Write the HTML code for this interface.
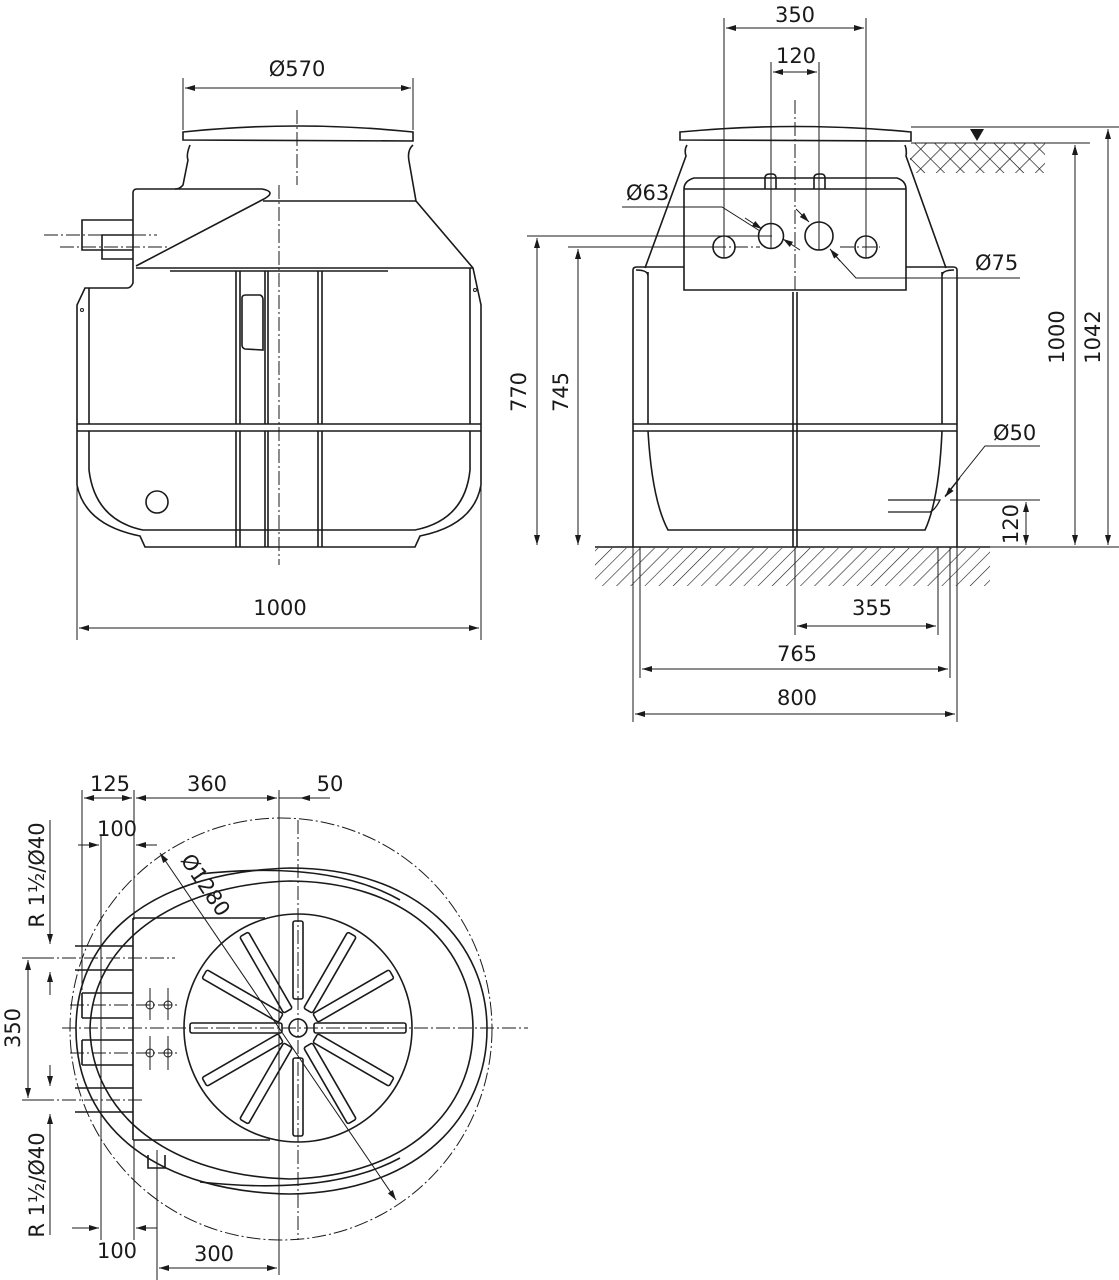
<!DOCTYPE html>
<html><head><meta charset="utf-8"><style>
html,body{margin:0;padding:0;background:#fff}
svg{display:block}
text{font-family:"DejaVu Sans","Liberation Sans",sans-serif;font-size:21px;fill:#1a1a1a}
.l{stroke:#1a1a1a;stroke-width:1.6;fill:none}
.t{stroke:#1a1a1a;stroke-width:1;fill:none}
.c{stroke:#1a1a1a;stroke-width:1;fill:none;stroke-dasharray:14 3 2 3}
</style></head><body>
<svg width="1119" height="1280" viewBox="0 0 1119 1280" xmlns="http://www.w3.org/2000/svg">
<defs>
<marker id="a" viewBox="0 0 10 6" refX="10" refY="3" markerWidth="12" markerHeight="6" orient="auto-start-reverse" markerUnits="userSpaceOnUse"><path d="M0,0 L10,3 L0,6z" fill="#1a1a1a"/></marker>
<pattern id="h" width="10" height="10" patternUnits="userSpaceOnUse" patternTransform="rotate(45)"><line x1="0" y1="0" x2="0" y2="10" stroke="#1a1a1a" stroke-width="1.2"/></pattern>
<pattern id="x" width="14" height="14" patternUnits="userSpaceOnUse" patternTransform="rotate(45)"><line x1="0" y1="0" x2="0" y2="14" stroke="#1a1a1a" stroke-width="1.4"/><line x1="0" y1="0" x2="14" y2="0" stroke="#1a1a1a" stroke-width="1.4"/></pattern>
</defs>

<!-- ===== FRONT VIEW (left) ===== -->
<g class="l">
<path d="M183,140 L183,132 Q297,120 413,132 L413,141 Z"/>
<path d="M190,145 Q186,155 188,160 L183,185 Q180,189 175,189 L137,189 Q133,189 133,193 L133,283 Q131,288 127,288 L85,288 L77,305 L77,485 Q85,525 140,536 L145,547 L415,547 L420,536 Q474,525 481,485 L481,305 L473,268 L416,201 L409,161 Q407,150 413,145"/>
<path d="M175,189 L262,189 Q278,192 262,200 L136,266"/>
<path d="M263,201 L416,201"/>
<path d="M136,268 L473,268"/>
<path d="M89,288 L89,424 M470,268 L470,424"/>
<path d="M77,424 L481,424 M77,431 L481,431"/>
<path d="M89,431 L89,470 Q95,520 143,530 L415,530 Q465,520 470,470 L470,431"/>
<path d="M170,271 L388,271"/>
<path d="M236,271 L236,424 M240,271 L240,424 M265,271 L265,424 M268,271 L268,424 M318,271 L318,424 M322,271 L322,424"/>
<path d="M236,431 L236,547 M240,431 L240,547 M265,431 L265,547 M268,431 L268,547 M318,431 L318,547 M322,431 L322,547"/>
<path d="M242,298 Q242,295 246,295 L260,295 Q263,296 263,300 L263,350 L245,349 Q242,348 242,345 Z"/>
<circle cx="157" cy="502" r="11"/>
<path d="M133,220 L82,220 L82,250 L133,250 M133,235 L102,235 L102,259 L133,259"/>
<circle cx="82" cy="310" r="1.5" class="t"/><circle cx="475" cy="290" r="1.5" class="t"/>
</g>
<path class="c" d="M297,110 L297,185 M279,185 L279,565 M44,235 L157,235 M60,247 L167,247"/>
<g class="t">
<path d="M183,130 L183,78 M413,130 L413,78"/>
<path d="M77,305 L77,640 M481,305 L481,640"/>
<line x1="185" y1="88" x2="411" y2="88" marker-start="url(#a)" marker-end="url(#a)"/>
<line x1="79" y1="628" x2="479" y2="628" marker-start="url(#a)" marker-end="url(#a)"/>
</g>
<text x="297" y="76" text-anchor="middle">Ø570</text>
<text x="280" y="615" text-anchor="middle">1000</text>

<!-- ===== SIDE VIEW (right) ===== -->
<rect x="910" y="143" width="135" height="30" fill="url(#x)"/>
<path d="M970,129 L984,129 L977,141 Z" fill="#1a1a1a"/>
<rect x="595" y="548" width="395" height="38" fill="url(#h)"/>
<g class="l">
<path d="M680,140 L680,132 Q795,121 911,132 L911,141 Z"/>
<path d="M687,145 Q684,150 686,156 L645,268 M905,145 Q907,150 906,156 L946,268"/>
<path d="M633,547 L633,270 Q633,267 637,267 L684,267 M906,267 L953,267 Q957,267 957,270 L957,547"/>
<path d="M648,272 L648,424 M942,272 L942,424 M636,270 Q648,270 648,276 M954,270 Q942,270 942,276"/>
<path d="M633,424 L957,424 M633,431 L957,431"/>
<path d="M648,431 Q652,500 668,530 L925,530 Q939,500 942,431"/>
<path d="M684,189 L684,290 L906,290 L906,189 M684,189 Q684,181 694,178 L897,178 Q906,181 906,189 M684,189 L906,189"/>
<path d="M765,189 L765,178 Q765,174 770,174 L772,174 Q776,174 776,178 L776,189 M814,189 L814,178 Q814,174 819,174 L821,174 Q825,174 825,178 L825,189"/>
<circle cx="724" cy="247" r="11"/><circle cx="771" cy="236" r="12.5"/><circle cx="819" cy="236" r="14"/><circle cx="866" cy="247" r="11"/>
<path d="M793,292 L793,547 M797,292 L797,547"/>
<path d="M888,500 L940,500 Q935,510 930,512 L888,512" stroke-width="1.3"/>
<path d="M595,547 L990,547"/>
</g>
<path class="c" d="M795,100 L795,290 M690,247 L760,247 M840,247 L880,247"/>
<g class="t">
<path d="M724,18 L724,258 M866,18 L866,258 M771,62 L771,249 M819,62 L819,250"/>
<line x1="726" y1="28" x2="864" y2="28" marker-start="url(#a)" marker-end="url(#a)"/>
<line x1="773" y1="72" x2="817" y2="72" marker-start="url(#a)" marker-end="url(#a)"/>
<path d="M622,207 L722,207 L760,231"/>
<line x1="745" y1="218" x2="762" y2="229" marker-end="url(#a)"/>
<line x1="800" y1="250" x2="783" y2="239" marker-end="url(#a)"/>
<line x1="796" y1="209" x2="809" y2="222" marker-end="url(#a)"/>
<path d="M1020,278 L856,278 L832,252"/>
<line x1="840" y1="261" x2="830" y2="249" marker-end="url(#a)"/>
<path d="M527,236 L772,236 M568,247 L720,247"/>
<line x1="537" y1="238" x2="537" y2="545" marker-start="url(#a)" marker-end="url(#a)"/>
<line x1="578" y1="249" x2="578" y2="545" marker-start="url(#a)" marker-end="url(#a)"/>
<path d="M911,127 L1119,127 M911,143 L1090,143 M957,547 L1119,547 M950,500 L1040,500"/>
<line x1="1075" y1="145" x2="1075" y2="545" marker-start="url(#a)" marker-end="url(#a)"/>
<line x1="1108" y1="129" x2="1108" y2="545" marker-start="url(#a)" marker-end="url(#a)"/>
<line x1="1026" y1="502" x2="1026" y2="545" marker-start="url(#a)" marker-end="url(#a)"/>
<path d="M1040,446 L985,446 L945,496"/>
<line x1="960" y1="478" x2="945" y2="497" marker-end="url(#a)"/>
<path d="M633,547 L633,722 M957,547 L957,722 M640,547 L640,678 M950,547 L950,678 M795,547 L795,635 M938,547 L938,635"/>
<line x1="797" y1="626" x2="936" y2="626" marker-start="url(#a)" marker-end="url(#a)"/>
<line x1="642" y1="669" x2="948" y2="669" marker-start="url(#a)" marker-end="url(#a)"/>
<line x1="635" y1="714" x2="955" y2="714" marker-start="url(#a)" marker-end="url(#a)"/>
</g>
<text x="795" y="22" text-anchor="middle">350</text>
<text x="796" y="63" text-anchor="middle">120</text>
<text x="626" y="200">Ø63</text>
<text x="975" y="270">Ø75</text>
<text x="993" y="440">Ø50</text>
<text x="872" y="615" text-anchor="middle">355</text>
<text x="797" y="661" text-anchor="middle">765</text>
<text x="797" y="705" text-anchor="middle">800</text>
<text transform="translate(526,392) rotate(-90)" text-anchor="middle">770</text>
<text transform="translate(568,392) rotate(-90)" text-anchor="middle">745</text>
<text transform="translate(1064,337) rotate(-90)" text-anchor="middle">1000</text>
<text transform="translate(1100,337) rotate(-90)" text-anchor="middle">1042</text>
<text transform="translate(1018,524) rotate(-90)" text-anchor="middle">120</text>

<!-- ===== TOP VIEW (bottom) ===== -->
<circle cx="281" cy="1029" r="211" class="c"/>
<g class="l">
<path d="M76,1029 C76,930 160,872 290,868 C420,868 487,945 487,1029 C487,1115 420,1192 290,1194 C160,1192 76,1130 76,1029 Z"/>
<path d="M90,1029 C92,945 170,885 290,881 C410,882 473,950 473,1029 C473,1108 410,1176 290,1179 C170,1176 92,1115 90,1029 Z"/>
<path d="M200,874 Q330,860 400,900 M200,1182 Q330,1196 400,1158"/>
<path d="M133,918 L133,1140 M133,918 L265,918 M133,1140 L270,1140"/>
<path d="M82,993 L133,993 M82,1018 L133,1018 M82,1040 L133,1040 M82,1065 L133,1065 M82,993 L82,1018 M82,1040 L82,1065"/>
<path d="M75,946 L133,946 M75,970 L133,970 M75,1088 L133,1088 M75,1112 L133,1112"/>
<path d="M148,1155 L148,1168 L165,1168 L165,1155"/>
<circle cx="298" cy="1028" r="114"/>
<circle cx="298" cy="1028" r="9"/>
</g>
<g class="l" stroke-width="1.3">
<rect x="190" y="1023" width="92" height="10" rx="2"/>
<rect x="314" y="1023" width="92" height="10" rx="2"/>
<rect x="293" y="921" width="10" height="78" rx="2"/>
<rect x="293" y="1058" width="10" height="78" rx="2"/>
<g transform="rotate(30 298 1028)"><rect x="318" y="1023" width="88" height="10" rx="2"/><rect x="190" y="1023" width="88" height="10" rx="2"/></g>
<g transform="rotate(60 298 1028)"><rect x="318" y="1023" width="88" height="10" rx="2"/><rect x="190" y="1023" width="88" height="10" rx="2"/></g>
<g transform="rotate(-30 298 1028)"><rect x="318" y="1023" width="88" height="10" rx="2"/><rect x="190" y="1023" width="88" height="10" rx="2"/></g>
<g transform="rotate(-60 298 1028)"><rect x="318" y="1023" width="88" height="10" rx="2"/><rect x="190" y="1023" width="88" height="10" rx="2"/></g>
</g>
<g class="t">
<circle cx="150" cy="1005" r="4"/><circle cx="168" cy="1005" r="4"/><circle cx="150" cy="1053" r="4"/><circle cx="168" cy="1053" r="4"/>
<path d="M150,988 L150,1020 M168,988 L168,1020 M150,1036 L150,1070 M168,1036 L168,1070"/>
</g>
<path class="c" d="M298,820 L298,1240 M62,1028 L528,1028 M70,1005 L178,1005 M70,1053 L178,1053 M40,958 L175,958 M40,1100 L145,1100"/>
<g class="t">
<path d="M279,790 L279,1275 M82,790 L82,990 M134,790 L134,920 M101,835 L101,1240 M134,1140 L134,1240 M157,1150 L157,1280"/>
<line x1="84" y1="798" x2="132" y2="798" marker-start="url(#a)" marker-end="url(#a)"/>
<line x1="136" y1="798" x2="277" y2="798" marker-start="url(#a)" marker-end="url(#a)"/>
<line x1="330" y1="798" x2="300" y2="798" marker-end="url(#a)"/>
<path d="M279,798 L330,798"/>
<line x1="78" y1="845" x2="99" y2="845" marker-end="url(#a)"/>
<line x1="157" y1="845" x2="136" y2="845" marker-end="url(#a)"/>
<line x1="72" y1="1228" x2="99" y2="1228" marker-end="url(#a)"/>
<line x1="157" y1="1228" x2="136" y2="1228" marker-end="url(#a)"/>
<line x1="159" y1="1268" x2="277" y2="1268" marker-start="url(#a)" marker-end="url(#a)"/>
<line x1="28" y1="960" x2="28" y2="1098" marker-start="url(#a)" marker-end="url(#a)"/>
<path d="M22,958 L45,958 M22,1100 L45,1100"/>
<line x1="50" y1="820" x2="50" y2="944" marker-end="url(#a)"/>
<line x1="50" y1="995" x2="50" y2="972" marker-end="url(#a)"/>
<line x1="50" y1="1065" x2="50" y2="1086" marker-end="url(#a)"/>
<line x1="50" y1="1235" x2="50" y2="1114" marker-end="url(#a)"/>
<line x1="160" y1="853" x2="396" y2="1200" marker-start="url(#a)" marker-end="url(#a)"/>
</g>
<text x="110" y="791" text-anchor="middle">125</text>
<text x="207" y="791" text-anchor="middle">360</text>
<text x="330" y="791" text-anchor="middle">50</text>
<text x="117" y="836" text-anchor="middle">100</text>
<text x="117" y="1258" text-anchor="middle">100</text>
<text x="214" y="1261" text-anchor="middle">300</text>
<text transform="translate(20,1028) rotate(-90)" text-anchor="middle">350</text>
<text transform="translate(44,875) rotate(-90)" text-anchor="middle">R 1½/Ø40</text>
<text transform="translate(44,1185) rotate(-90)" text-anchor="middle">R 1½/Ø40</text>
<text transform="translate(180,860) rotate(56)">Ø1280</text>
</svg>
</body></html>
